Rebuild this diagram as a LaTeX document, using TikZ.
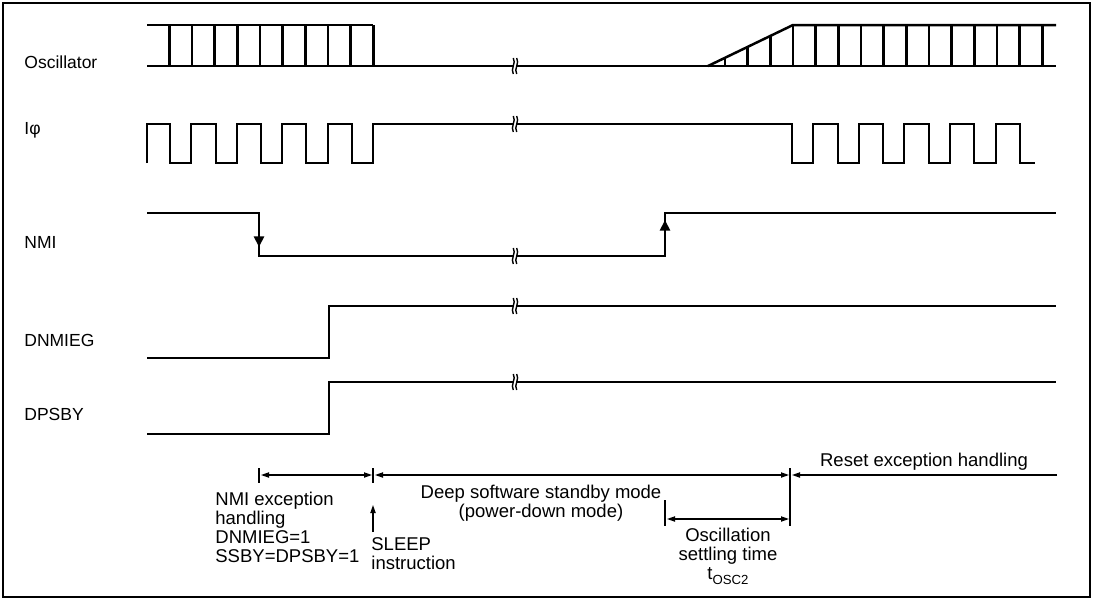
\documentclass[tikz,border=0pt]{standalone}
\usepackage{fontspec}
\setmainfont{Liberation Sans}
\usetikzlibrary{arrows.meta}
\tikzset{
  sig/.style={line width=1.25pt, line join=miter},
  frame/.style={line width=0.75pt},
  ann/.style={line width=0.6pt},
  anntip/.style={-{Triangle[length=4pt,width=2.6pt]}},
  anntips/.style={{Triangle[length=4pt,width=2.6pt]}-{Triangle[length=4pt,width=2.6pt]}},
  edgetip/.style={line width=1.25pt, -{Triangle[length=5.3pt,width=5pt]}},
  lbl/.style={font=\fontsize{8.75}{10}\selectfont, inner sep=0pt, anchor=west},
  note/.style={font=\fontsize{9.25}{9.5}\selectfont, inner sep=0pt},
}
\newcommand\brkmark[2]{%
  \fill[white] ({#1-1.6},{#2-3.4}) rectangle ({#1+1.6},{#2+3.4});
  \draw[line width=0.7pt] ({#1-1.7},{#2-8}) .. controls ({#1+1.5},{#2-3}) and ({#1-4.9},{#2+3}) .. ({#1-1.7},{#2+8});
  \draw[line width=0.7pt] ({#1+1.7},{#2-8}) .. controls ({#1+4.9},{#2-3}) and ({#1-1.5},{#2+3}) .. ({#1+1.7},{#2+8});
}
\begin{document}
\begin{tikzpicture}[x=0.5pt,y=-0.5pt]
\useasboundingbox (0,0) rectangle (1093,600);
\draw[frame] (3,3) rectangle (1090,597);

% ---------- labels
\node[lbl] (lOsc) at (24,62) {Oscillator};
\node[lbl] (lIphi) at (24,130) {Iφ};
\node[lbl] (lNMI) at (24,242) {NMI};
\node[lbl] (lDNMIEG) at (24,340) {DNMIEG};
\node[lbl] (lDPSBY) at (24,414) {DPSBY};

% ---------- Oscillator
\draw[sig] (147,25) -- (373.3,25);
\draw[sig] (147,66) -- (1056,66);
\foreach \i in {0,...,9} {\draw[sig] ({169.3+22.67*\i},25) -- ({169.3+22.67*\i},66);}
\draw[sig] (708,66) -- (793,25) -- (1056,25);
\foreach \xx in {725,747.7,770.3} {\draw[sig] (\xx,66) -- (\xx,{66-41*(\xx-708)/85});}
\foreach \i in {0,...,11} {\draw[sig] ({793+22.67*\i},25) -- ({793+22.67*\i},66);}
\brkmark{515}{66}

% ---------- I phi
\draw[sig] (147,163) -- (147,124) -- (170,124) -- (170,163) -- (191,163) -- (191,124)
  -- (216,124) -- (216,163) -- (237,163) -- (237,124) -- (261,124) -- (261,163)
  -- (282,163) -- (282,124) -- (306,124) -- (306,163) -- (328,163) -- (328,124)
  -- (352,124) -- (352,163) -- (373,163) -- (373,124) -- (792,124) -- (792,163)
  -- (813,163) -- (813,124) -- (838,124) -- (838,163) -- (859,163) -- (859,124)
  -- (883,124) -- (883,163) -- (904,163) -- (904,124) -- (929,124) -- (929,163)
  -- (950,163) -- (950,124) -- (974,124) -- (974,163) -- (996,163) -- (996,124)
  -- (1020,124) -- (1020,163) -- (1035,163);
\brkmark{515}{124}

% ---------- NMI
\draw[sig] (147,213) -- (259,213) -- (259,256) -- (665,256) -- (665,213) -- (1056,213);
\coordinate (nmiF0) at (259,213); \coordinate (nmiF1) at (259,247);
\coordinate (nmiR0) at (665,256); \coordinate (nmiR1) at (665,220);
\draw[edgetip] (nmiF0) -- (nmiF1);
\draw[edgetip] (nmiR0) -- (nmiR1);
\brkmark{515}{256}

% ---------- DNMIEG
\draw[sig] (147,358) -- (329,358) -- (329,306) -- (1056,306);
\brkmark{515}{306}

% ---------- DPSBY
\draw[sig] (147,434) -- (329,434) -- (329,382) -- (1056,382);
\brkmark{515}{382}

% ---------- annotations
\coordinate (aA) at (259,475); \coordinate (aB) at (373,475);
\coordinate (aC) at (790,475); \coordinate (aD) at (1057,475);
\draw[ann] (259,468) -- (259,483);
\draw[ann] (373,468) -- (373,483);
\draw[line width=0.7pt] (790,468) -- (790,526);
\draw[ann, anntips] ([xshift=1pt]aA) -- ([xshift=-0.5pt]aB);
\draw[ann, anntips] ([xshift=1pt]aB) -- ([xshift=-0.5pt]aC);
\draw[ann, anntip] (aD) -- ([xshift=1pt]aC);

\coordinate (sl0) at (373,532); \coordinate (sl1) at (373,505);
\draw[ann, anntip] (sl0) -- (sl1);

\draw[ann] (665,500) -- (665,526);
\coordinate (os0) at (665,519); \coordinate (os1) at (790,519);
\draw[ann, anntips] ([xshift=1pt]os0) -- ([xshift=-0.5pt]os1);

\node[note, anchor=north west, align=left] (tNMI) at (215,492)
  {NMI exception\\handling\\DNMIEG=1\\SSBY=DPSBY=1};
\node[note, anchor=north west, align=left] (tSLEEP) at (371,537)
  {SLEEP\\instruction};
\node[note, anchor=north, align=center] (tDeep) at (541,485)
  {Deep software standby mode\\(power-down mode)};
\node[note, anchor=north, align=center] (tOsc) at (728,528)
  {Oscillation\\settling time\\t\raisebox{-0.45ex}{\fontsize{6.6}{7}\selectfont OSC2}};
\node[note, anchor=north] (tReset) at (924,453) {Reset exception handling};
\end{tikzpicture}
\end{document}
